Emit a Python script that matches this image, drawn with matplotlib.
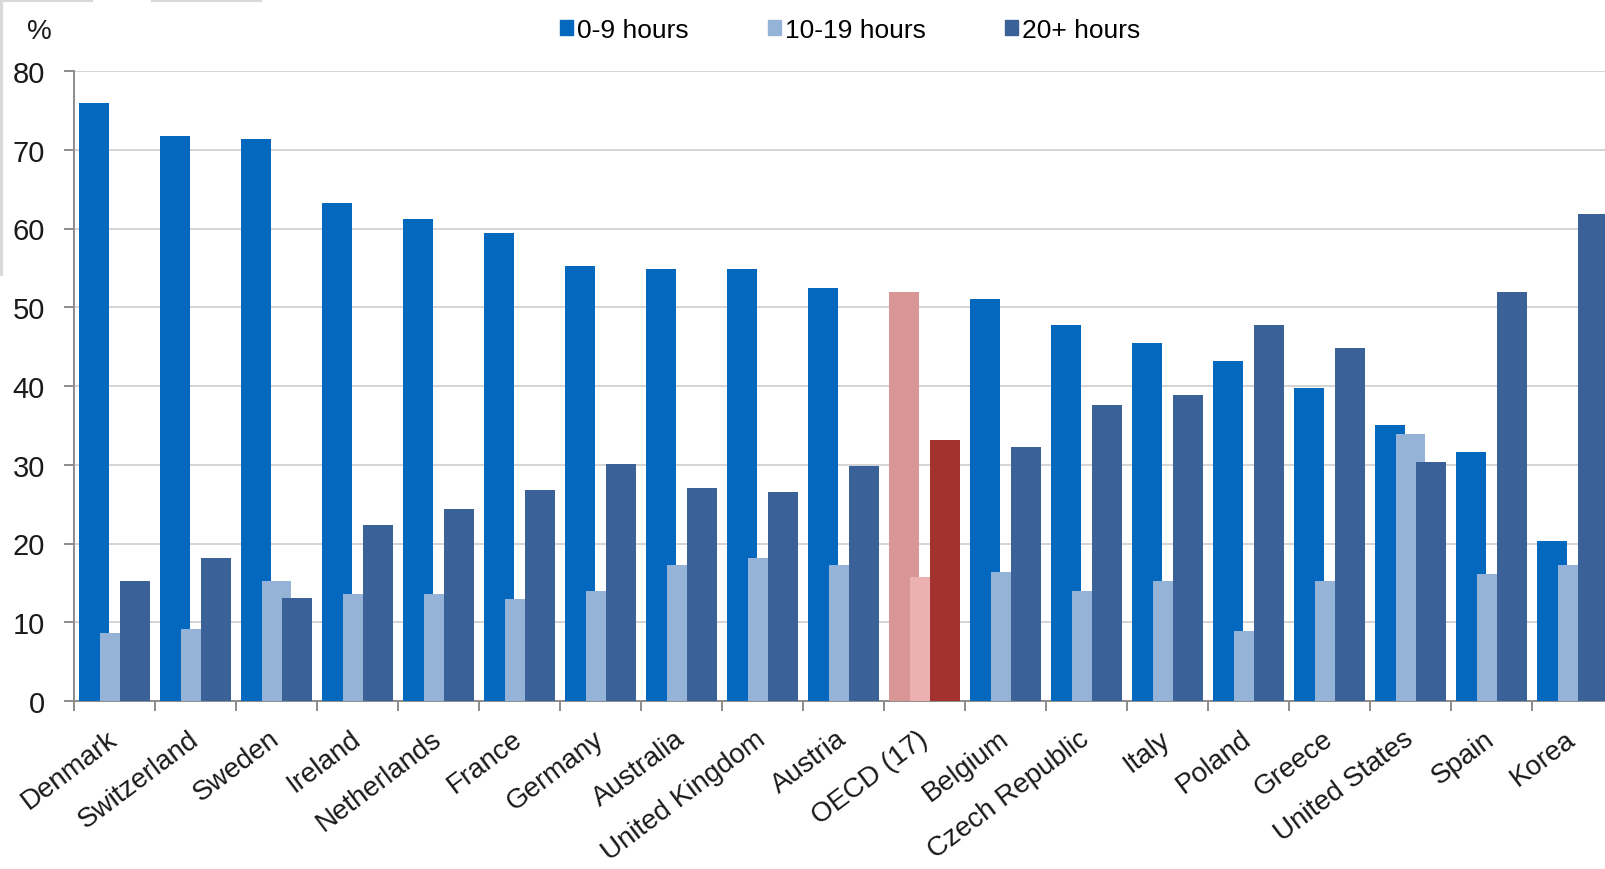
import numpy as np
import matplotlib
matplotlib.use("Agg")
import matplotlib.pyplot as plt
from matplotlib.lines import Line2D
from matplotlib.patches import Patch

# ====================================
# Data
# ====================================

countries = ["Denmark", "Switzerland", "Sweden", "Ireland", "Netherlands",
             "France", "Germany", "Australia", "United Kingdom", "Austria",
             "OECD (17)", "Belgium", "Czech Republic", "Italy", "Poland",
             "Greece", "United States", "Spain", "Korea"]

hours_0_9 = [75.9, 71.7, 71.4, 63.3, 61.2, 59.4, 55.3, 54.9, 54.9, 52.5,
             51.9, 51.1, 47.7, 45.4, 43.2, 39.7, 35.1, 31.6, 20.3]
hours_10_19 = [8.6, 9.1, 15.2, 13.6, 13.6, 13.0, 14.0, 17.3, 18.2, 17.3,
               15.8, 16.4, 14.0, 15.2, 8.9, 15.2, 33.9, 16.1, 17.3]
hours_20_plus = [15.2, 18.2, 13.1, 22.3, 24.4, 26.8, 30.1, 27.1, 26.6, 29.8,
                 33.1, 32.2, 37.6, 38.8, 47.7, 44.8, 30.4, 51.9, 61.8]

series_labels = ["0-9 hours", "10-19 hours", "20+ hours"]
blue_colors = ["#0468BF", "#95B3D7", "#3A6299"]
oecd_colors = ["#D99694", "#EBB0AF", "#A3322F"]
highlight = "OECD (17)"

FONT = ["Liberation Sans", "DejaVu Sans"]

# ====================================
# Plot
# ====================================

fig = plt.figure(figsize=(16.05, 8.7), dpi=100)
ax = fig.add_axes([74 / 1605, 168 / 870, 1539 / 1605, 630 / 870])

x = np.arange(len(countries))
width = 0.37
offsets = [-0.25, 0.0, 0.25]
all_series = [hours_0_9, hours_10_19, hours_20_plus]

for k, (vals, off) in enumerate(zip(all_series, offsets)):
    colors = [oecd_colors[k] if c == highlight else blue_colors[k]
              for c in countries]
    ax.bar(x + off, vals, width, color=colors, zorder=3 + k)

ax.set_xlim(-0.5, len(countries) - 0.5)
ax.set_ylim(0, 80)
ax.set_yticks(range(0, 81, 10))

ax.grid(axis="y", color="#D4D4D4", linewidth=1.4, zorder=0)
ax.set_axisbelow(True)

for side in ["top", "right"]:
    ax.spines[side].set_visible(False)
for side in ["left", "bottom"]:
    ax.spines[side].set_color("#8C8C8C")
    ax.spines[side].set_linewidth(1.4)

# category separators as minor ticks, labels on the major ticks
ax.set_xticks(x)
ax.set_xticks(np.arange(-0.5, len(countries), 1.0), minor=True)
ax.tick_params(axis="x", which="major", length=0, pad=25)
ax.tick_params(axis="x", which="minor", length=7, width=1.4, color="#8C8C8C")
ax.tick_params(axis="y", length=7, width=1.4, color="#8C8C8C", pad=14)

ax.set_xticklabels(countries, rotation=37, ha="right", va="center",
                   rotation_mode="anchor", fontsize=20,
                   family=FONT, color="#1A1A1A")
for lab in ax.get_yticklabels():
    lab.set_family(FONT)
    lab.set_fontsize(21)
    lab.set_color("#1A1A1A")

fig.text(27 / 1605, 1 - 32 / 870, "%", fontsize=20, va="center",
         family=FONT, color="#1A1A1A")

handles = [Patch(color=c) for c in blue_colors]
fig.legend(handles, series_labels, loc="center", ncol=3,
           bbox_to_anchor=(850 / 1605, 1 - 31 / 870), frameon=False,
           handlelength=0.5, handleheight=0.5, handletextpad=0.15,
           columnspacing=3.0,
           prop={"family": FONT, "size": 19})

# light frame fragments along the top-left corner
frame_kw = dict(color="#D9D9D9", linewidth=3, transform=fig.transFigure)
fig.add_artist(Line2D([0, 91 / 1605], [1 - 1 / 870, 1 - 1 / 870], **frame_kw))
fig.add_artist(Line2D([153 / 1605, 260 / 1605], [1 - 1 / 870, 1 - 1 / 870], **frame_kw))
fig.add_artist(Line2D([1 / 1605, 1 / 1605], [1, 1 - 275 / 870], **frame_kw))

fig.savefig("out.png", dpi=100)
